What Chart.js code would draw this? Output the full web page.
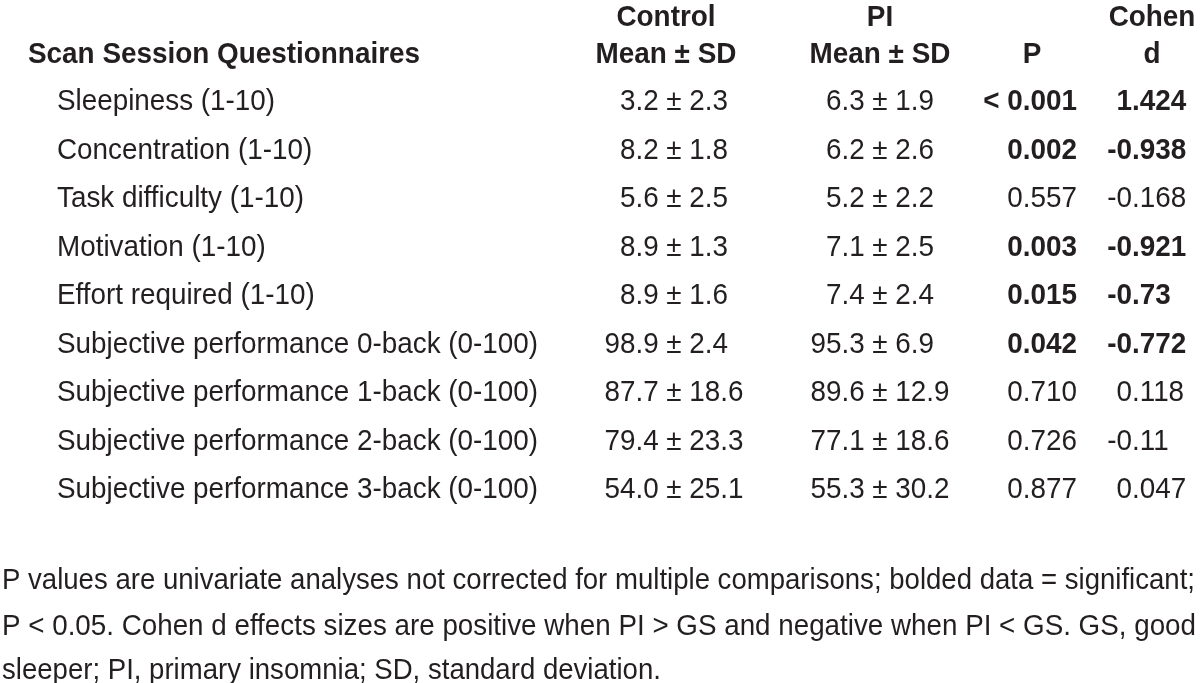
<!DOCTYPE html>
<html>
<head>
<meta charset="utf-8">
<script src="https://cdn.jsdelivr.net/npm/chart.js@4/dist/chart.umd.min.js"></script>
<style>
  html, body { margin: 0; padding: 0; background: #fff; }
  canvas { display: block; }
</style>
</head>
<body>
<canvas id="table" width="1200" height="683"></canvas>
<script>
// table data
const questions = [
  'Sleepiness (1-10)',
  'Concentration (1-10)',
  'Task difficulty (1-10)',
  'Motivation (1-10)',
  'Effort required (1-10)',
  'Subjective performance 0-back (0-100)',
  'Subjective performance 1-back (0-100)',
  'Subjective performance 2-back (0-100)',
  'Subjective performance 3-back (0-100)'
];
const controlMean = ['3.2', '8.2', '5.6', '8.9', '8.9', '98.9', '87.7', '79.4', '54.0'];
const controlSd   = ['2.3', '1.8', '2.5', '1.3', '1.6', '2.4', '18.6', '23.3', '25.1'];
const piMean      = ['6.3', '6.2', '5.2', '7.1', '7.4', '95.3', '89.6', '77.1', '55.3'];
const piSd        = ['1.9', '2.6', '2.2', '2.5', '2.4', '6.9', '12.9', '18.6', '30.2'];
const pValues     = ['< 0.001', '0.002', '0.557', '0.003', '0.015', '0.042', '0.710', '0.726', '0.877'];
const cohenD      = ['1.424', '-0.938', '-0.168', '-0.921', '-0.73', '-0.772', '0.118', '-0.11', '0.047'];
const significant = [true, true, false, true, true, true, false, false, false];

const headerTop    = ['', 'Control', 'PI', '', 'Cohen'];
const headerBottom = ['Scan Session Questionnaires', 'Mean \u00b1 SD', 'Mean \u00b1 SD', 'P', 'd'];
const footnote = [
  'P values are univariate analyses not corrected for multiple comparisons; bolded data = significant;',
  'P < 0.05. Cohen d effects sizes are positive when PI > GS and negative when PI < GS. GS, good',
  'sleeper; PI, primary insomnia; SD, standard deviation.'
];

// column anchors (x scale is in page px) and row positions (y scale is row index)
const COL = { label: 57, control: 674, pi: 880, p: 1077, d: 1132 };
const HEAD_X = [28, 666, 880, 1032, 1152];
const HEAD_ROWS = [-1.730, -0.968];
const FOOT_ROWS = [9.866, 10.814, 11.72];

const FAMILY = '"Liberation Sans Narrow", "Arial Narrow", "Liberation Sans", Arial, sans-serif';
const SIZE = 30;
const INK = '#231f20';

function rowPoints(x) {
  return questions.map((q, i) => ({ x: x, y: i }));
}

let sxReg = 1, sxBold = 1, sxFoot = [1, 1, 1];

function fitStretch(ctx) {
  ctx.font = SIZE + 'px ' + FAMILY;
  sxReg = 481 / ctx.measureText(questions[5]).width;
  // footnote block is set justified, last line keeps the first line's stretch
  const s0 = 1193 / ctx.measureText(footnote[0]).width;
  const s1 = 1194 / ctx.measureText(footnote[1]).width;
  sxFoot = [s0, s1, s0];
  ctx.font = 'bold ' + SIZE + 'px ' + FAMILY;
  sxBold = 392 / ctx.measureText(headerBottom[0]).width;
}

function put(ctx, text, x, y, align, bold, sx) {
  sx = sx || (bold ? sxBold : sxReg);
  ctx.save();
  ctx.font = (bold ? 'bold ' : '') + SIZE + 'px ' + FAMILY;
  ctx.textAlign = align;
  ctx.textBaseline = 'alphabetic';
  ctx.fillStyle = INK;
  ctx.translate(x, y);
  ctx.scale(sx, 1);
  ctx.fillText(text, 0, 0);
  ctx.restore();
}

function width(ctx, text, bold) {
  ctx.save();
  ctx.font = (bold ? 'bold ' : '') + SIZE + 'px ' + FAMILY;
  const w = ctx.measureText(text).width * (bold ? sxBold : sxReg);
  ctx.restore();
  return w;
}

// mean ± sd, aligned on the ± sign
function putPm(ctx, mean, sd, x, y) {
  const pmHalf = width(ctx, '\u00b1') / 2;
  const sp = width(ctx, ' ');
  put(ctx, mean, x - pmHalf - sp, y, 'right', false);
  put(ctx, '\u00b1', x, y, 'center', false);
  put(ctx, sd, x + pmHalf + sp, y, 'left', false);
}

// decimal aligned value
function putDecimal(ctx, text, x, y, bold) {
  const k = text.indexOf('.');
  put(ctx, text.slice(0, k), x, y, 'right', bold);
  put(ctx, text.slice(k), x, y, 'left', bold);
}

const tableText = {
  id: 'tableText',
  afterDatasetsDraw(chart) {
    const ctx = chart.ctx;
    const xs = chart.scales.x;
    const ys = chart.scales.y;
    fitStretch(ctx);

    // headers
    HEAD_ROWS.forEach((r, li) => {
      const row = li === 0 ? headerTop : headerBottom;
      row.forEach((t, c) => {
        if (!t) return;
        put(ctx, t, xs.getPixelForValue(HEAD_X[c]), ys.getPixelForValue(r), c === 0 ? 'left' : 'center', true);
      });
    });

    // body cells, positioned by the dataset elements
    chart.data.datasets.forEach((ds, di) => {
      chart.getDatasetMeta(di).data.forEach((el, i) => {
        const x = el.x, y = el.y;
        if (ds.label === 'question') put(ctx, questions[i], x, y, 'left', false);
        if (ds.label === 'control') putPm(ctx, controlMean[i], controlSd[i], x, y);
        if (ds.label === 'pi') putPm(ctx, piMean[i], piSd[i], x, y);
        if (ds.label === 'p') put(ctx, pValues[i], x, y, 'right', significant[i]);
        if (ds.label === 'd') putDecimal(ctx, cohenD[i], x, y, significant[i]);
      });
    });

    // footnote
    footnote.forEach((t, i) => {
      put(ctx, t, xs.getPixelForValue(2), ys.getPixelForValue(FOOT_ROWS[i]), 'left', false, sxFoot[i]);
    });
  }
};

const point = { pointRadius: 0, pointHoverRadius: 0, showLine: false };

new Chart(document.getElementById('table'), {
  type: 'scatter',
  data: {
    datasets: [
      Object.assign({ label: 'question', data: rowPoints(COL.label) }, point),
      Object.assign({ label: 'control', data: rowPoints(COL.control) }, point),
      Object.assign({ label: 'pi', data: rowPoints(COL.pi) }, point),
      Object.assign({ label: 'p', data: rowPoints(COL.p) }, point),
      Object.assign({ label: 'd', data: rowPoints(COL.d) }, point)
    ]
  },
  plugins: [tableText],
  options: {
    responsive: false,
    animation: false,
    layout: { padding: 0 },
    plugins: {
      legend: { display: false },
      tooltip: { enabled: false }
    },
    scales: {
      x: { type: 'linear', min: 0, max: 1200, display: false },
      y: { type: 'linear', min: -2.2657, max: 11.802, reverse: true, display: false }
    }
  }
});
</script>
</body>
</html>
